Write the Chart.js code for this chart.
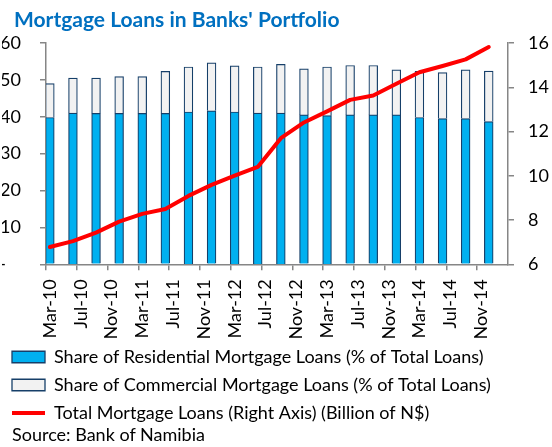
<!DOCTYPE html>
<html><head><meta charset="utf-8">
<script src="https://cdn.jsdelivr.net/npm/chart.js@4.4.1/dist/chart.umd.min.js"></script>
<style>
html,body{margin:0;padding:0;background:#fff;}
#wrap{position:relative;width:552px;height:447px;overflow:hidden;}
#title{position:absolute;left:14px;top:6px;font:bold 21px Lato, sans-serif;color:#0070c0;white-space:nowrap;line-height:1.2;}
#source{position:absolute;left:12px;top:424px;font:18px Lato, sans-serif;color:#000;white-space:nowrap;line-height:1.2;}
canvas{position:absolute;left:0;top:0;}
</style></head><body>
<div id="wrap"><canvas id="c" width="552" height="447"></canvas><div id="title">Mortgage Loans in Banks' Portfolio</div><div id="source">Source: Bank of Namibia</div></div>
<script>
// Quarterly observations (Mar-10 .. Dec-14)
const quarters = ['Mar-10','Jun-10','Sep-10','Dec-10','Mar-11','Jun-11','Sep-11','Dec-11','Mar-12','Jun-12','Sep-12','Dec-12','Mar-13','Jun-13','Sep-13','Dec-13','Mar-14','Jun-14','Sep-14','Dec-14'];
// Share of residential mortgage loans (% of total loans)
const residential = [39.8, 41.0, 40.9, 40.9, 40.9, 40.9, 41.3, 41.6, 41.3, 41.0, 41.0, 40.5, 40.3, 40.5, 40.5, 40.5, 39.8, 39.5, 39.5, 38.7];
// Share of commercial mortgage loans (% of total loans)
const commercial = [9.2, 9.5, 9.6, 10.0, 10.0, 11.4, 12.2, 13.0, 12.5, 12.5, 13.2, 12.5, 13.2, 13.4, 13.4, 12.2, 12.5, 12.5, 13.2, 13.7];
// Total mortgage loans (billion N$), right axis
const totalLoans = [6.78, 7.05, 7.43, 7.93, 8.28, 8.50, 9.09, 9.59, 10.01, 10.40, 11.70, 12.41, 12.91, 13.43, 13.63, 14.16, 14.68, 14.96, 15.26, 15.82];
// x-axis tick labels (every 4 months)
const tickLabels = ['Mar-10','Jul-10','Nov-10','Mar-11','Jul-11','Nov-11','Mar-12','Jul-12','Nov-12','Mar-13','Jul-13','Nov-13','Mar-14','Jul-14','Nov-14'];
const leftTicks = [0, 10, 20, 30, 40, 50, 60];
const rightTicks = [6, 8, 10, 12, 14, 16];

const MONTHS_PER_QUARTER = 3, MONTHS_PER_TICK = 4;
const toPts = arr => arr.map((v, i) => ({x: i * MONTHS_PER_QUARTER, y: v}));

const AXIS = '#868686';
const NAVY = '#163f69';
const FS = 18;
Chart.defaults.font.family = 'Lato, sans-serif';
Chart.defaults.color = '#000';

new Chart(document.getElementById('c'), {
  type: 'bar',
  data: {
    datasets: [
      {label: 'Share of Residential Mortgage Loans (% of Total Loans)', data: toPts(residential),
       backgroundColor: '#00b0f0', borderColor: NAVY, borderWidth: 1.2, barThickness: 8.8, yAxisID: 'y'},
      {label: 'Share of Commercial Mortgage Loans (% of Total Loans)', data: toPts(commercial),
       backgroundColor: '#f2f2f2', borderColor: NAVY, borderWidth: 1.2, barThickness: 8.8, yAxisID: 'y'},
      {type: 'line', label: 'Total Mortgage Loans (Right Axis) (Billion of N$)', data: toPts(totalLoans),
       borderColor: '#ff0000', backgroundColor: '#ff0000', borderWidth: 4, pointRadius: 0,
       pointBorderWidth: 4, pointBorderColor: '#ff0000', tension: 0, borderJoinStyle: 'round',
       borderCapStyle: 'round', yAxisID: 'y2', order: -1}
    ]
  },
  options: {
    responsive: false, animation: false,
    layout: {padding: {left: 2, right: 0, top: 43, bottom: 15}},
    plugins: {
      tooltip: {enabled: false},
      title: {display: false},
      legend: {
        position: 'bottom', align: 'start',
        labels: {
          usePointStyle: true, pointStyleWidth: 33, boxHeight: 11.5, padding: 10,
          font: {size: FS}, color: '#000',
          sort: (a, b) => a.datasetIndex - b.datasetIndex,
          generateLabels: (chart) => {
            const items = Chart.defaults.plugins.legend.labels.generateLabels(chart);
            items.forEach(it => {
              const ds = chart.data.datasets[it.datasetIndex];
              if (ds.type === 'line') { it.pointStyle = 'line'; it.lineWidth = 4; it.strokeStyle = ds.borderColor; }
              else { it.pointStyle = 'rect'; it.lineWidth = 1.3; it.fillStyle = ds.backgroundColor; it.strokeStyle = ds.borderColor; }
            });
            return items;
          }
        }
      }
    },
    scales: {
      x: {
        type: 'linear', stacked: true, offset: false,
        min: -0.5, max: quarters.length * MONTHS_PER_QUARTER - 0.5,
        afterBuildTicks: s => { s.ticks = tickLabels.map((l, i) => ({value: -0.5 + i * MONTHS_PER_TICK})); },
        afterFit: s => { s.height = 73.7; },
        ticks: {autoSkip: false, maxRotation: 90, minRotation: 90, labelOffset: 4, padding: 9,
                font: {size: FS}, color: '#000', callback: (v, i) => tickLabels[i]},
        grid: {offset: false, drawOnChartArea: false, tickLength: 6, color: AXIS, lineWidth: 1.5},
        border: {color: AXIS, width: 1.5}
      },
      y: {
        position: 'left', stacked: true, min: leftTicks[0], max: leftTicks[leftTicks.length - 1],
        afterBuildTicks: s => { s.ticks = leftTicks.map(v => ({value: v})); },
        afterFit: s => { s.width = 44; },
        ticks: {padding: 19, font: {size: FS}, color: '#000',
                callback: v => v === 0 ? '-\u2007 ' : String(v)},
        grid: {drawOnChartArea: false, tickLength: 6, color: AXIS, lineWidth: 1.5},
        border: {color: AXIS, width: 1.5}
      },
      y2: {
        position: 'right', stacked: false, min: rightTicks[0], max: rightTicks[rightTicks.length - 1],
        afterBuildTicks: s => { s.ticks = rightTicks.map(v => ({value: v})); },
        afterFit: s => { s.width = 44; },
        ticks: {padding: 14, font: {size: FS}, color: '#000'},
        grid: {drawOnChartArea: false, tickLength: 6, color: AXIS, lineWidth: 1.5},
        border: {color: AXIS, width: 1.5}
      }
    }
  }
});
</script>
</body></html>
